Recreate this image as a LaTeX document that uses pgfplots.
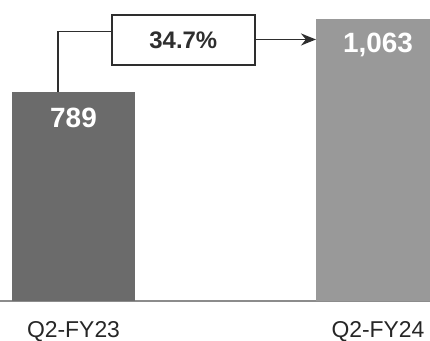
\documentclass[border=0pt]{standalone}
\usepackage{fontspec}
\setmainfont{Liberation Sans}
\usepackage{pgfplots}
\pgfplotsset{compat=1.18}
\usetikzlibrary{arrows.meta}

\definecolor{barA}{gray}{0.42}
\definecolor{barB}{gray}{0.60}
\definecolor{ink}{gray}{0.18}

\begin{document}
\begin{tikzpicture}
\begin{axis}[
  at={(0,0)}, anchor=south west,
  scale only axis,
  width=430bp, height=301bp,
  xmin=-0.2414, xmax=1.1708,
  ymin=0, ymax=1136,
  axis x line*=bottom,
  axis y line=none,
  x axis line style={draw=black!45, line width=1.2bp},
  xtick={0,1},
  xticklabels={Q2-FY23, Q2-FY24},
  major tick length=0pt,
  xticklabel style={font=\fontsize{23}{23}\selectfont, text=black!85, anchor=base, yshift=-36bp},
  ytick=\empty,
  ybar, bar shift=0pt, bar width=0.4056,
  point meta=explicit symbolic,
  nodes near coords,
  every node near coord/.append style={anchor=center, yshift=-26bp,
    font=\bfseries\fontsize{28}{28}\selectfont, text=white},
  clip=true,
]
\addplot[draw=none, fill=barA] coordinates {(0,789) [789]};
\addplot[draw=none, fill=barB] coordinates {(1,1063) [1,063]};

% growth call-out between the two quarters
\draw[line width=1.6bp, ink] (axis cs:-0.0509,789) |- (axis cs:0.1255,1016.6);
\node[draw=ink, line width=1.6bp, fill=white, minimum width=143bp, minimum height=50bp,
  inner sep=0pt, font=\bfseries\fontsize{24}{24}\selectfont, text=ink]
  at (axis cs:0.3607,985) {34.7\%};
\draw[line width=1.6bp, ink, -{Stealth[length=15bp,width=12bp]}]
  (axis cs:0.596,987) -- (axis cs:0.7964,987);
\end{axis}
\pgfresetboundingbox
\path (0,-40bp) rectangle (430bp,301bp);
\end{tikzpicture}
\end{document}
